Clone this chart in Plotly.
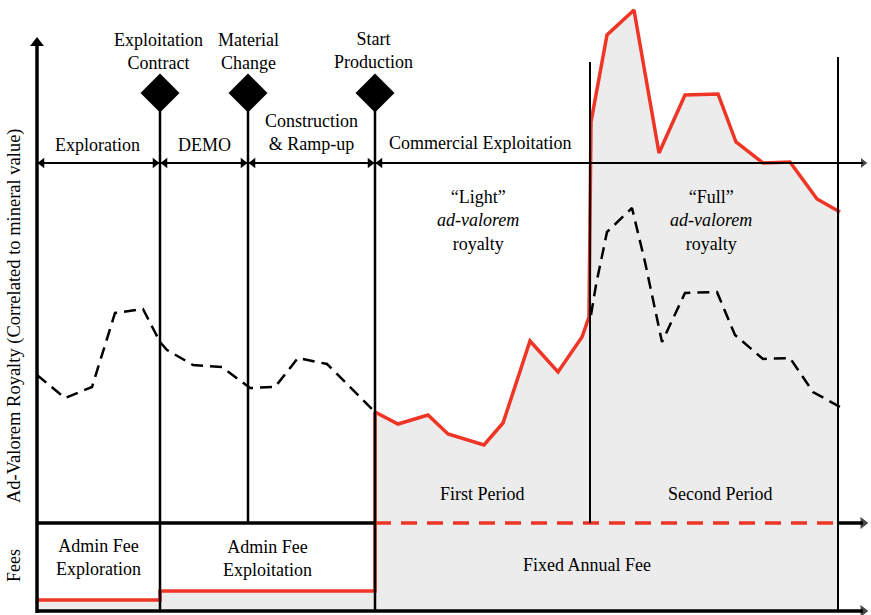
import plotly.graph_objects as go

# ---------------- data ----------------
# time axis units, value axis units (0 = bottom axis)
royalty_t = [375, 398, 428, 448, 484, 503, 530, 558, 582, 589, 591, 607, 634, 659, 685, 718, 736, 763, 790, 817, 840]
royalty_v = [203, 191, 200, 181, 170, 192, 274, 243, 278, 298, 493, 580, 605, 462, 520, 521, 473, 452, 453, 416, 403]

value_pre_t = [37, 65, 92, 115, 143, 160, 167, 193, 222, 250, 275, 298, 327, 373]
value_pre_v = [240, 217, 228, 302, 306, 273, 265, 250, 248, 227, 228, 257, 251, 205]
value_post_t = [591, 596, 607, 632, 645, 662, 685, 717, 735, 763, 790, 813, 840]
value_post_v = [300, 330, 383, 407, 353, 273, 322, 323, 280, 256, 257, 223, 208]

milestone_t = [160, 248, 375]
milestone_labels = ["Exploitation<br>Contract", "Material<br>Change", "Start<br>Production"]
period_split_t = 590
end_t = 838

admin_fee_t = [37, 160, 160, 375, 375]
admin_fee_v = [15, 15, 24, 24, 203]
fixed_fee_v = 92

phase_labels = ["Exploration", "DEMO", "Construction<br>& Ramp-up", "Commercial Exploitation"]

# ---------------- styling ----------------
RED = "#ef3526"
GRAY = "#ececec"
FONT = "Liberation Serif"
FS = 18

origin_t = 37
base_v = 4
top_v = 452       # phase arrow line
axis_top = 579
W, H = 871, 615

fig = go.Figure()

# gray areas
poly_t = [375] + royalty_t + [end_t, 375]
poly_v = [base_v] + royalty_v + [base_v, base_v]
fig.add_trace(go.Scatter(x=poly_t, y=poly_v, fill="toself", fillcolor=GRAY,
                         line=dict(width=0), mode="lines", hoverinfo="skip"))
fig.add_trace(go.Scatter(x=[37, 160, 160, 375, 375, 37, 37], y=[15, 15, 24, 24, base_v, base_v, 15],
                         fill="toself", fillcolor=GRAY, line=dict(width=0), mode="lines", hoverinfo="skip"))

shapes = []
def line(x0, y0, x1, y1, w=2, color="black", dash="solid"):
    shapes.append(dict(type="line", xref="x", yref="y", x0=x0, y0=y0, x1=x1, y1=y1,
                       line=dict(color=color, width=w, dash=dash), layer="above"))

# axes
line(origin_t, base_v - 2, origin_t, axis_top - 8, w=3.5)
line(origin_t, base_v, W - 8, base_v, w=3.5)
line(origin_t, fixed_fee_v, 375, fixed_fee_v, w=3.5)
line(end_t, fixed_fee_v, W - 8, fixed_fee_v, w=3.5)
line(origin_t, top_v, W - 8, top_v, w=2)

# verticals
line(160, base_v, 160, 522, w=2.5)
line(248, fixed_fee_v, 248, 522, w=2.5)
line(375, base_v, 375, 522, w=2.5)
line(period_split_t, fixed_fee_v, period_split_t, 553, w=2)
line(end_t, base_v, end_t, 558, w=2)

fig.update_layout(shapes=shapes)

# red dashed fixed fee
fig.add_trace(go.Scatter(x=[375, end_t], y=[fixed_fee_v, fixed_fee_v], mode="lines",
                         line=dict(color=RED, width=3.5, dash="16px,10px"), hoverinfo="skip"))
# admin fee red line
fig.add_trace(go.Scatter(x=admin_fee_t, y=admin_fee_v, mode="lines",
                         line=dict(color=RED, width=3.5), hoverinfo="skip"))
# black dashed mineral value
fig.add_trace(go.Scatter(x=value_pre_t + [None] + value_post_t, y=value_pre_v + [None] + value_post_v,
                         mode="lines", line=dict(color="black", width=2.5, dash="12px,7px"),
                         hoverinfo="skip", connectgaps=False))
# red royalty
fig.add_trace(go.Scatter(x=royalty_t, y=royalty_v, mode="lines",
                         line=dict(color=RED, width=3.5), hoverinfo="skip"))

# diamonds
fig.add_trace(go.Scatter(x=milestone_t, y=[522] * 3, mode="markers",
                         marker=dict(symbol="diamond", size=30, color="black"), hoverinfo="skip"))

# arrowheads
fig.add_trace(go.Scatter(x=[origin_t], y=[axis_top - 7], mode="markers",
                         marker=dict(symbol="triangle-up", size=12, color="black"), hoverinfo="skip"))
fig.add_trace(go.Scatter(x=[W - 8, W - 8, W - 8], y=[top_v, fixed_fee_v, base_v], mode="markers",
                         marker=dict(symbol="triangle-right", size=[10, 12, 12], color="black"), hoverinfo="skip"))
fig.add_trace(go.Scatter(x=[42, 155, 165, 243, 253, 370, 380], y=[top_v] * 7, mode="markers",
                         marker=dict(symbol=["triangle-left", "triangle-right", "triangle-left",
                                             "triangle-right", "triangle-left", "triangle-right",
                                             "triangle-left"], size=9, color="black"), hoverinfo="skip"))

ann = []
def text(x, y, s, size=FS, angle=0):
    ann.append(dict(x=x, y=y, xref="x", yref="y", text=s, showarrow=False, textangle=angle,
                    font=dict(family=FONT, size=size, color="black"), align="center"))

text(158, 564, milestone_labels[0])
text(248, 564, milestone_labels[1])
text(373, 565, milestone_labels[2])
text(97, 470, phase_labels[0])
text(204, 470, phase_labels[1])
text(311, 483, phase_labels[2])
text(480, 472, phase_labels[3])
text(478, 395, "\u201cLight\u201d<br><i>ad-valorem</i><br>royalty")
text(711, 395, "\u201cFull\u201d<br><i>ad-valorem</i><br>royalty")
text(482, 121, "First Period")
text(720, 121, "Second Period")
text(98, 58, "Admin Fee<br>Exploration")
text(267, 57, "Admin Fee<br>Exploitation")
text(587, 50, "Fixed Annual Fee")
text(14, 299, "Ad-Valorem Royalty (Correlated to mineral value)", size=18.5, angle=-90)
text(14, 49, "Fees", size=18, angle=-90)

fig.update_layout(
    annotations=ann,
    width=W, height=H,
    margin=dict(l=0, r=0, t=0, b=0),
    paper_bgcolor="white", plot_bgcolor="white",
    showlegend=False,
    xaxis=dict(range=[0, W], visible=False, fixedrange=True),
    yaxis=dict(range=[0, H], visible=False, fixedrange=True),
)

fig.write_html("out.html", config={"displayModeBar": False},
               post_script="document.body.style.margin='0px';document.body.style.overflow='hidden';")
